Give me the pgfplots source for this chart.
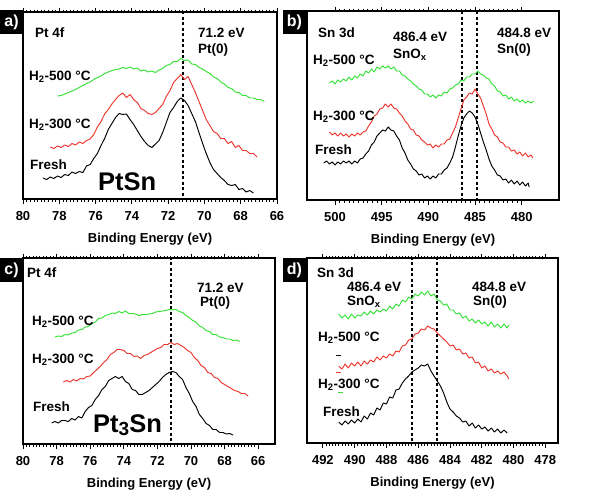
\documentclass[border=0pt]{standalone}
\usepackage{fontspec}
\setmainfont{Liberation Sans}
\usepackage{pgfplots}
\pgfplotsset{compat=1.18}

\definecolor{specgreen}{RGB}{55,225,55}
\definecolor{specred}{RGB}{235,55,45}

\pgfplotsset{
  xps/.style={
    scale only axis,
    anchor=south west,
    x dir=reverse,
    y dir=reverse,
    ytick=\empty,
    xtick pos=both,
    xticklabel pos=lower,
    tick align=outside,
    minor x tick num=9,
    major tick length=4.5pt,
    minor tick length=2.5pt,
    tick style={black, line width=0.9pt},
    minor tick style={black, line width=0.7pt},
    axis line style={line width=1.6pt},
    tick label style={font=\bfseries\fontsize{13}{15}\selectfont},
    xticklabel style={yshift=-4.5pt},
    xlabel={Binding Energy (eV)},
    xlabel style={font=\bfseries\fontsize{13}{15}\selectfont, yshift=-5pt},
    every axis plot/.append style={line width=0.95pt, line join=round},
  },
  vline/.style={black, line width=2pt, dash pattern=on 3pt off 2.5pt},
}

\newcommand{\tag}[3]{%
  \fill[black] (#1pt,-#2pt) rectangle ++(23pt,-24pt);
  \node[white, font=\bfseries\fontsize{16}{16}\selectfont] at ([xshift=11.5pt,yshift=-12pt]#1pt,-#2pt) {#3};}
\newcommand{\lbl}[3]{\node[anchor=west, inner sep=0pt, font=\bfseries\fontsize{13.5}{15}\selectfont] at (#1pt,-#2pt) {#3};}

\begin{document}
\begin{tikzpicture}
\path (0pt,0pt) rectangle (608pt,-490pt);

% ---------------- (a) PtSn, Pt 4f ----------------
\begin{axis}[xps, at={(23pt,-199pt)}, width=254pt, height=187pt,
  xmin=66, xmax=80, ymin=12, ymax=199,
  xtick={66,68,...,80}, xticklabels={\textbf{66},\textbf{68},\textbf{70},\textbf{72},\textbf{74},\textbf{76},\textbf{78},\textbf{80}}]
\addplot[vline] coordinates {(71.2,0) (71.2,220)};
\addplot[specgreen] coordinates {
(78.1,96)(77.9,95.5)(77.7,94)(77.5,92.5)(77.3,91)(77.1,89.5)(76.9,87.5)(76.7,85.5)(76.5,83.5)(76.3,82)
(76.1,79.5)(75.9,77.5)(75.7,76)(75.5,73.5)(75.3,72)(75.1,70.5)(74.9,69.5)(74.7,69)(74.5,67.5)(74.3,68.5)
(74.1,67)(73.9,69)(73.7,68)(73.5,71)(73.3,70)(73.1,72)(72.9,71)(72.7,72.5)(72.5,70)(72.3,68.5)
(72.1,65.5)(71.9,64.5)(71.7,61.5)(71.5,61.5)(71.3,58.5)(71.1,60.5)(70.9,60)(70.7,64)(70.5,64.5)(70.3,67.5)
(70.1,69)(69.9,71.5)(69.7,73.5)(69.5,77)(69.3,78.5)(69.1,82)(68.9,84)(68.7,87.5)(68.5,88.5)(68.3,92)
(68.1,92.5)(67.9,95.5)(67.7,95.5)(67.5,98)(67.3,98)(67.1,99.5)(66.9,99.5)(66.7,101.5)};
\addplot[specred] coordinates {
(78.5,147)(78.3,148.5)(78.1,146)(77.9,147.5)(77.7,145)(77.5,146.5)(77.3,143.5)(77.1,145)(76.9,142)(76.7,143.5)
(76.5,140.5)(76.3,139)(76.1,134.5)(75.9,127)(75.7,121.5)(75.5,114)(75.3,109.5)(75.1,104)(74.9,99.5)(74.7,95.5)
(74.5,93)(74.3,97.5)(74.1,94.5)(73.9,99.5)(73.7,102.5)(73.5,108.5)(73.3,110.5)(73.1,113.5)(72.9,114.5)(72.7,112.5)
(72.5,108.5)(72.3,104.5)(72.1,96.5)(71.9,90.5)(71.7,82.5)(71.5,78.5)(71.3,74.5)(71.1,79.5)(70.9,76.5)(70.7,84.5)
(70.5,92.5)(70.3,101.5)(70.1,110.5)(69.9,119.5)(69.7,125.5)(69.5,131.5)(69.3,133.5)(69.1,138.5)(68.9,138.5)(68.7,143.5)
(68.5,141.5)(68.3,147.5)(68.1,145.5)(67.9,150.5)(67.7,150.5)(67.5,153.5)(67.3,153.5)(67.1,157)};
\addplot[black] coordinates {
(78.9,178)(78.7,179.5)(78.5,177)(78.3,178.5)(78.1,176)(77.9,177.5)(77.7,174.5)(77.5,175.5)(77.3,172)(77.1,173.5)
(76.9,171.5)(76.7,172.5)(76.5,166)(76.3,164.5)(76.1,158.5)(75.9,153.5)(75.7,145.5)(75.5,138.5)(75.3,129.5)(75.1,123.5)
(74.9,117.5)(74.7,113.5)(74.5,114.5)(74.3,114)(74.1,119.5)(73.9,124.5)(73.7,130.5)(73.5,136.5)(73.3,141.5)(73.1,145.5)
(72.9,147.5)(72.7,144)(72.5,140.5)(72.3,132.5)(72.1,122.5)(71.9,112.5)(71.7,107.5)(71.5,101.5)(71.3,98)(71.1,100.5)
(70.9,105.5)(70.7,113.5)(70.5,121.5)(70.3,132.5)(70.1,143.5)(69.9,153.5)(69.7,162.5)(69.5,169.5)(69.3,173.5)(69.1,177.5)
(68.9,180.5)(68.7,184.5)(68.5,185.5)(68.3,184.5)(68.1,189.5)(67.9,188.5)(67.7,192)(67.5,190.5)(67.3,193)};
\end{axis}

% ---------------- (b) PtSn, Sn 3d ----------------
\begin{axis}[xps, at={(307pt,-200pt)}, width=252pt, height=189pt,
  xmin=476, xmax=503, ymin=11, ymax=200,
  xtick={480,485,...,500}, xticklabels={\textbf{480},\textbf{485},\textbf{490},\textbf{495},\textbf{500}}]
\addplot[vline] coordinates {(486.4,0) (486.4,220)};
\addplot[vline] coordinates {(484.8,0) (484.8,220)};
\addplot[specgreen] coordinates {
(500.6,83)(500.3,81)(500.0,84)(499.7,80)(499.4,82)(499.1,79)(498.8,81)(498.5,77)(498.2,80)(497.9,76)
(497.6,78)(497.3,74)(497.0,76)(496.7,71)(496.4,73)(496.1,69)(495.8,72)(495.5,67)(495.2,69)(494.9,66)
(494.6,68)(494.3,66)(494.0,69)(493.7,67)(493.4,71)(493.1,71)(492.8,75)(492.5,76)(492.2,79)(491.9,81)
(491.6,84)(491.3,86)(491.0,89)(490.7,90)(490.4,94)(490.1,94)(489.8,97)(489.5,95)(489.2,98)(488.9,95)
(488.6,96)(488.3,92)(488.0,93)(487.7,89)(487.4,88)(487.1,85)(486.8,84)(486.5,80)(486.2,81)(485.9,77)
(485.6,77)(485.3,74)(485.0,74)(484.7,71)(484.4,74)(484.1,75)(483.8,78)(483.5,79)(483.2,84)(482.9,86)
(482.6,91)(482.3,92)(482.0,96)(481.7,95)(481.4,99)(481.1,97)(480.8,101)(480.5,99)(480.2,102)(479.9,100)
(479.6,103)(479.3,101)(479.0,103)(478.7,101)};
\addplot[specred] coordinates {
(500.6,132)(500.3,135)(500.0,133)(499.7,136)(499.4,133)(499.1,136)(498.8,134)(498.5,137)(498.2,134)(497.9,136)
(497.6,133)(497.3,135)(497.0,132)(496.7,131)(496.4,126)(496.1,122)(495.8,116)(495.5,114)(495.2,109)(494.9,108)
(494.6,104)(494.3,107)(494.0,104)(493.7,108)(493.4,109)(493.1,113)(492.8,116)(492.5,121)(492.2,124)(491.9,129)
(491.6,130)(491.3,135)(491.0,136)(490.7,140)(490.4,142)(490.1,145)(489.8,144)(489.5,148)(489.2,145)(488.9,147)
(488.6,144)(488.3,144)(488.0,140)(487.7,139)(487.4,133)(487.1,127)(486.8,118)(486.5,109)(486.2,100)(485.9,97)
(485.6,93)(485.3,94)(485.0,89)(484.7,94)(484.4,98)(484.1,106)(483.8,114)(483.5,124)(483.2,129)(482.9,135)
(482.6,137)(482.3,142)(482.0,143)(481.7,147)(481.4,147)(481.1,151)(480.8,150)(480.5,154)(480.2,152)(479.9,156)
(479.6,153)(479.3,157)(479.0,155)(478.8,158)};
\addplot[black] coordinates {
(501.2,163)(500.9,161)(500.6,164)(500.3,162)(500.0,165)(499.7,162)(499.4,164)(499.1,161)(498.8,163)(498.5,161)
(498.2,164)(497.9,161)(497.6,163)(497.3,159)(497.0,158)(496.7,154)(496.4,151)(496.1,145)(495.8,142)(495.5,136)
(495.2,133)(494.9,130)(494.6,131)(494.3,127)(494.0,130)(493.7,131)(493.4,136)(493.1,140)(492.8,148)(492.5,153)
(492.2,160)(491.9,164)(491.6,169)(491.3,171)(491.0,175)(490.7,174)(490.4,178)(490.1,176)(489.8,179)(489.5,176)
(489.2,178)(488.9,174)(488.6,174)(488.3,170)(488.0,168)(487.7,163)(487.4,157)(487.1,147)(486.8,136)(486.5,126)
(486.2,118)(485.9,114)(485.6,111)(485.3,113)(485.0,117)(484.7,124)(484.4,133)(484.1,142)(483.8,150)(483.5,159)
(483.2,166)(482.9,170)(482.6,175)(482.3,176)(482.0,180)(481.7,179)(481.4,183)(481.1,180)(480.8,184)(480.5,181)
(480.2,185)(479.9,182)(479.6,186)(479.3,183)(479.2,187)};
\end{axis}

% ---------------- (c) Pt3Sn, Pt 4f ----------------
\begin{axis}[xps, at={(23pt,-444pt)}, width=252pt, height=186pt,
  xmin=65, xmax=80, ymin=258, ymax=444,
  xtick={66,68,...,80}, xticklabels={\textbf{66},\textbf{68},\textbf{70},\textbf{72},\textbf{74},\textbf{76},\textbf{78},\textbf{80}}]
\addplot[vline] coordinates {(71.2,240) (71.2,460)};
\addplot[specgreen] coordinates {
(78.1,337)(77.9,336)(77.7,336.5)(77.5,334.5)(77.3,335)(77.1,333)(76.9,332.5)(76.7,330)(76.5,329.5)(76.3,327)
(76.1,326.5)(75.9,323.5)(75.7,322)(75.5,318.5)(75.3,318)(75.1,315.5)(74.9,314.5)(74.7,313)(74.5,313.5)(74.3,311.5)
(74.1,313)(73.9,311)(73.7,313.5)(73.5,313.5)(73.3,314)(73.1,315.5)(72.9,314.5)(72.7,314.5)(72.5,314)(72.3,313.5)
(72.1,312)(71.9,311.5)(71.7,311)(71.5,310.5)(71.3,309.5)(71.1,310)(70.9,309.5)(70.7,311.5)(70.5,312.5)(70.3,315.5)
(70.1,317.5)(69.9,320.5)(69.7,322)(69.5,326)(69.3,327.5)(69.1,330.5)(68.9,331.5)(68.7,334.5)(68.5,334.5)(68.3,337)
(68.1,337.5)(67.9,339)(67.7,339)(67.5,340.5)(67.3,340)(67.1,341.5)};
\addplot[specred] coordinates {
(77.6,382)(77.4,380.5)(77.2,382)(77.0,379.5)(76.8,381)(76.6,378.5)(76.4,379)(76.2,376.5)(76.0,376)(75.8,372.5)
(75.6,369.5)(75.4,366.5)(75.2,362.5)(75.0,359.5)(74.8,354.5)(74.6,352.5)(74.4,349.5)(74.2,349.5)(74.0,350.5)(73.8,353.5)
(73.6,353.5)(73.4,356.5)(73.2,356)(73.0,358.5)(72.8,355.5)(72.6,354.5)(72.4,352.5)(72.2,350.5)(72.0,348.5)(71.8,347.5)
(71.6,344.5)(71.4,344.5)(71.2,342.5)(71.0,344.5)(70.8,343.5)(70.6,345.5)(70.4,347.5)(70.2,350.5)(70.0,352.5)(69.8,357.5)
(69.6,360.5)(69.4,365.5)(69.2,367.5)(69.0,372.5)(68.8,373.5)(68.6,377.5)(68.4,378.5)(68.2,382.5)(68.0,384.5)(67.8,386.5)
(67.6,388.5)(67.4,390.5)(67.2,391.5)(67.0,393.5)(66.8,393.5)(66.6,396)};
\addplot[black] coordinates {
(78.3,423)(78.1,421.5)(77.9,423)(77.7,420.5)(77.5,420.5)(77.3,421.5)(77.1,418.5)(76.9,420)(76.7,416.5)(76.5,418)
(76.3,411.5)(76.1,407.5)(75.9,405.5)(75.7,399.5)(75.5,395.5)(75.3,389.5)(75.1,386.5)(74.9,380.5)(74.7,378.5)(74.5,376.5)
(74.3,378.5)(74.1,376.5)(73.9,381.5)(73.7,383.5)(73.5,389.5)(73.3,390.5)(73.1,394.5)(72.9,394.5)(72.7,392.5)(72.5,390.5)
(72.3,387.5)(72.1,384.5)(71.9,381.5)(71.7,377.5)(71.5,374.5)(71.3,372.5)(71.1,371.5)(70.9,372.5)(70.7,376.5)(70.5,379.5)
(70.3,387.5)(70.1,393.5)(69.9,401.5)(69.7,406.5)(69.5,414.5)(69.3,418.5)(69.1,423.5)(68.9,425.5)(68.7,429.5)(68.5,429.5)
(68.3,432.5)(68.1,432.5)(67.9,434)(67.7,433.5)(67.5,435)};
\end{axis}

% ---------------- (d) Pt3Sn, Sn 3d ----------------
\begin{axis}[xps, at={(307pt,-443pt)}, width=251pt, height=185pt,
  xmin=477.2, xmax=493, ymin=258, ymax=443,
  xtick={478,480,...,492}, xticklabels={\textbf{478},\textbf{480},\textbf{482},\textbf{484},\textbf{486},\textbf{488},\textbf{490},\textbf{492}}]
\addplot[vline] coordinates {(486.4,240) (486.4,460)};
\addplot[vline] coordinates {(484.8,240) (484.8,460)};
\addplot[specgreen] coordinates {
(491.0,314)(490.8,318)(490.6,315)(490.4,319)(490.2,314)(490.0,318)(489.8,315)(489.6,316)(489.4,312)(489.2,315)
(489.0,311)(488.8,314)(488.6,310)(488.4,312)(488.2,309)(488.0,311)(487.8,306)(487.6,309)(487.4,304)(487.2,306)
(487.0,300)(486.8,302)(486.6,297)(486.4,299)(486.2,294)(486.0,296)(485.8,292)(485.6,295)(485.4,291)(485.2,296)
(485.0,294)(484.8,300)(484.6,301)(484.4,305)(484.2,304)(484.0,310)(483.8,310)(483.6,314)(483.4,313)(483.2,318)
(483.0,316)(482.8,321)(482.6,319)(482.4,323)(482.2,320)(482.0,324)(481.8,322)(481.6,326)(481.4,322)(481.2,327)
(481.0,324)(480.8,328)(480.6,324)(480.4,328)(480.3,325)};
\addplot[specred] coordinates {
(491.0,366)(490.8,369)(490.6,364)(490.4,368)(490.2,363)(490.0,366)(489.8,362)(489.6,366)(489.4,361)(489.2,364)
(489.0,360)(488.8,362)(488.6,357)(488.4,360)(488.2,356)(488.0,358)(487.8,354)(487.6,356)(487.4,351)(487.2,352)
(487.0,346)(486.8,345)(486.6,340)(486.4,339)(486.2,334)(486.0,333)(485.8,329)(485.6,330)(485.4,326)(485.2,328)
(485.0,329)(484.8,333)(484.6,336)(484.4,339)(484.2,342)(484.0,346)(483.8,345)(483.6,350)(483.4,349)(483.2,354)
(483.0,353)(482.8,358)(482.6,357)(482.4,363)(482.2,362)(482.0,368)(481.8,366)(481.6,371)(481.4,369)(481.2,373)
(481.0,371)(480.8,374)(480.6,372)(480.4,376)(480.3,379)};
\addplot[black] coordinates {
(491.0,422)(490.8,425)(490.6,421)(490.4,424)(490.2,420)(490.0,423)(489.8,419)(489.6,422)(489.4,416)(489.2,419)
(489.0,413)(488.8,415)(488.6,408)(488.4,410)(488.2,403)(488.0,404)(487.8,397)(487.6,398)(487.4,390)(487.2,389)
(487.0,383)(486.8,379)(486.6,376)(486.4,372)(486.2,370)(486.0,368)(485.8,365)(485.6,366)(485.4,364)(485.2,371)
(485.0,376)(484.8,381)(484.6,386)(484.4,393)(484.2,402)(484.0,409)(483.8,412)(483.6,416)(483.4,418)(483.2,422)
(483.0,421)(482.8,426)(482.6,423)(482.4,428)(482.2,425)(482.0,429)(481.8,427)(481.6,431)(481.4,428)(481.2,432)
(481.0,429)(480.8,433)(480.6,430)(480.4,433)};
\end{axis}

% panel tags
\tag{0}{10}{a)}
\tag{283}{10}{b)}
\tag{0}{258}{c)}
\tag{283}{258}{d)}

% annotations, panel (a)
\lbl{35}{33}{Pt 4f}
\lbl{198}{33}{71.2 eV}
\lbl{198}{50}{Pt(0)}
\lbl{29}{77}{H\textsubscript{2}-500 °C}
\lbl{29}{125}{H\textsubscript{2}-300 °C}
\lbl{30}{165}{Fresh}
\node[anchor=west, inner sep=0pt, font=\bfseries\fontsize{25.5}{26}\selectfont] at (98pt,-182pt) {PtSn};

% annotations, panel (b)
\lbl{318}{33}{Sn 3d}
\lbl{393}{37}{486.4 eV}
\lbl{393}{55}{SnO\textsubscript{x}}
\lbl{497}{33}{484.8 eV}
\lbl{497}{50}{Sn(0)}
\lbl{313}{61}{H\textsubscript{2}-500 °C}
\lbl{313}{117}{H\textsubscript{2}-300 °C}
\lbl{315}{150}{Fresh}

% annotations, panel (c)
\lbl{27}{273}{Pt 4f}
\lbl{197}{288}{71.2 eV}
\lbl{200}{303}{Pt(0)}
\lbl{32}{322}{H\textsubscript{2}-500 °C}
\lbl{32}{360}{H\textsubscript{2}-300 °C}
\lbl{33}{407}{Fresh}
\node[anchor=west, inner sep=0pt, font=\bfseries\fontsize{25.5}{26}\selectfont] at (93pt,-425pt) {Pt\raisebox{-0.12em}{\fontsize{19}{19}\selectfont 3}Sn};

% annotations, panel (d)
\lbl{317}{273}{Sn 3d}
\lbl{347}{287}{486.4 eV}
\lbl{347}{302}{SnO\textsubscript{x}}
\lbl{472}{287}{484.8 eV}
\lbl{473}{302}{Sn(0)}
\lbl{318}{338}{H\textsubscript{2}-500 °C}
\lbl{318}{385}{H\textsubscript{2}-300 °C}
\lbl{323}{412}{Fresh}
\draw[black, line width=1pt] (336pt,-355pt) -- (341pt,-355pt);
\draw[specred, line width=1pt] (336pt,-372pt) -- (341pt,-372pt);
\draw[specgreen, line width=1pt] (338pt,-392pt) -- (343pt,-392pt);
\end{tikzpicture}
\end{document}
